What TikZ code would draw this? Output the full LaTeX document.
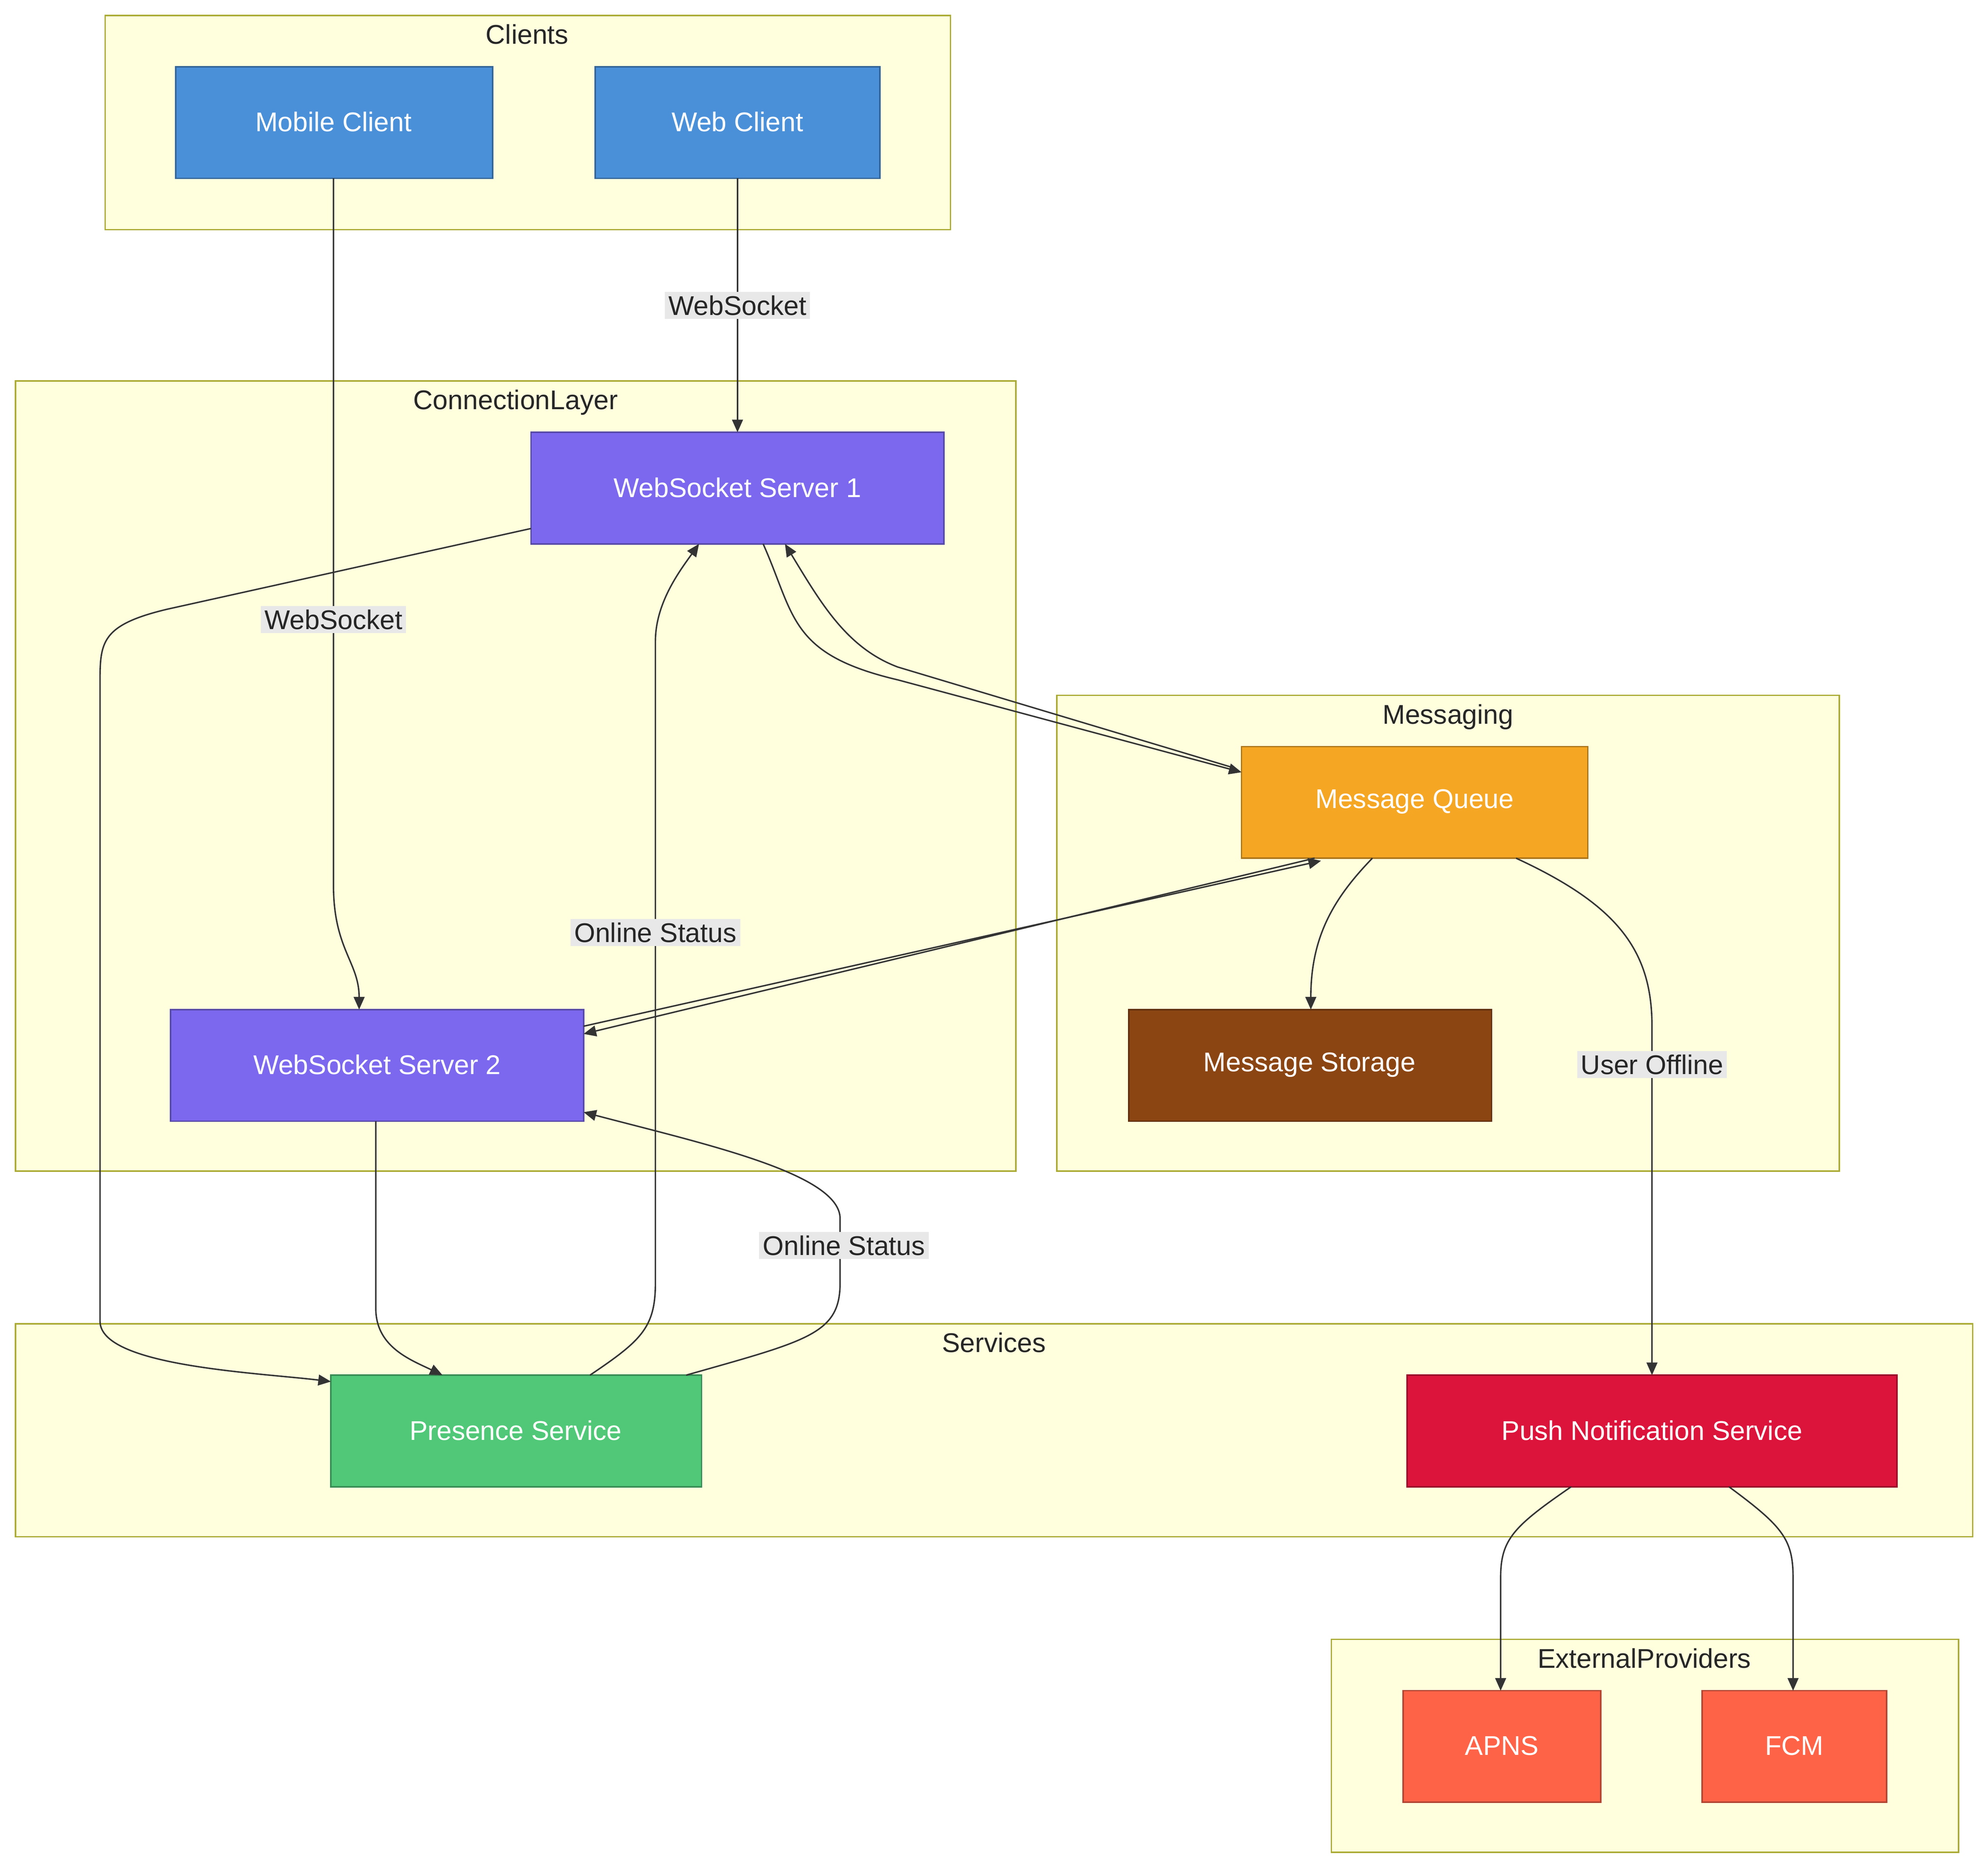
\documentclass[tikz,border=0pt]{standalone}
\usepackage{fontspec}
\setmainfont{Liberation Sans}
\usetikzlibrary{arrows.meta}
\definecolor{clfill}{HTML}{FFFFDE}
\definecolor{clline}{HTML}{AAAA33}
\definecolor{cblue}{HTML}{4A90D9}
\definecolor{cpurp}{HTML}{7B68EE}
\definecolor{corange}{HTML}{F5A623}
\definecolor{cbrown}{HTML}{8B4513}
\definecolor{cgreen}{HTML}{50C878}
\definecolor{cred}{HTML}{DC143C}
\definecolor{ctomato}{HTML}{FF6347}
\definecolor{edgec}{HTML}{333333}
\definecolor{lblbg}{HTML}{E8E8E8}
\begin{document}
\begin{tikzpicture}[x=0.025cm,y=-0.025cm,
 cluster/.style={draw=clline,fill=clfill,line width=0.8pt},
 ctitle/.style={anchor=north,font=\fontsize{15}{18}\selectfont,text=black!85},
 box/.style={draw=#1!70!black,fill=#1,line width=0.8pt},
 btxt/.style={text=white,font=\fontsize{15}{18}\selectfont},
 e/.style={draw=edgec,line width=0.8pt,-{Triangle[length=7pt,width=6pt]}},
 lbl/.style={fill=lblbg,inner sep=2pt,font=\fontsize{15}{18}\selectfont,text=black!85}]
\useasboundingbox (0,0) rectangle (1550,1457);
\fill[white] (0,0) rectangle (1550,1457);
% clusters
\draw[cluster] (82,12) rectangle (741,179); \node[ctitle] (tcl) at (411,14) {Clients};
\draw[cluster] (12,297) rectangle (792,913); \node[ctitle] (tco) at (402,299) {ConnectionLayer};
\draw[cluster] (824,542) rectangle (1434,913); \node[ctitle] (tme) at (1129,544) {Messaging};
\draw[cluster] (12,1032) rectangle (1538,1198); \node[ctitle] (tse) at (775,1034) {Services};
\draw[cluster] (1038,1278) rectangle (1527,1444); \node[ctitle] (tex) at (1282,1280) {ExternalProviders};
% nodes
\draw[box=cblue] (137,52) rectangle (384,139); \node[btxt] (mob) at (260,95) {Mobile Client};
\draw[box=cblue] (464,52) rectangle (686,139); \node[btxt] (web) at (575,95) {Web Client};
\draw[box=cpurp] (414,337) rectangle (736,424); \node[btxt] (ws1) at (575,380) {WebSocket Server 1};
\draw[box=cpurp] (133,787) rectangle (455,874); \node[btxt] (ws2) at (294,830) {WebSocket Server 2};
\draw[box=corange] (968,582) rectangle (1238,669); \node[btxt] (mq) at (1103,625) {Message Queue};
\draw[box=cbrown] (880,787) rectangle (1163,874); \node[btxt] (ms) at (1021,830) {Message Storage};
\draw[box=cgreen] (258,1072) rectangle (547,1159); \node[btxt] (ps) at (402,1115) {Presence Service};
\draw[box=cred] (1097,1072) rectangle (1479,1159); \node[btxt] (pn) at (1288,1115) {Push Notification Service};
\draw[box=ctomato] (1094,1318) rectangle (1248,1405); \node[btxt] (apns) at (1171,1361) {APNS};
\draw[box=ctomato] (1327,1318) rectangle (1471,1405); \node[btxt] (fcm) at (1399,1361) {FCM};
% edges
\draw[e] (260,139) -- (260,690) .. controls (260,740) and (280,750) .. (280,787);
\node[lbl] (l1) at (260,483) {WebSocket};
\draw[e] (575,139) -- (575,337);
\node[lbl] (l2) at (575,238) {WebSocket};
\draw[e] (414,412) -- (130,475) .. controls (80,487) and (78,500) .. (78,530) -- (78,1030) .. controls (78,1065) and (200,1070) .. (258,1077);
\draw[e] (293,874) -- (293,1020) .. controls (293,1050) and (320,1060) .. (345,1072);
\draw[e] (460,1072) .. controls (500,1045) and (511,1035) .. (511,1000) -- (511,500) .. controls (511,470) and (530,445) .. (545,424);
\node[lbl] (l3) at (511,727) {Online Status};
\draw[e] (535,1072) .. controls (630,1045) and (655,1040) .. (655,1000) -- (655,950) .. controls (655,915) and (550,892) .. (455,867);
\node[lbl] (l4) at (658,971) {Online Status};
\draw[e] (595,424) .. controls (620,480) and (615,510) .. (700,530) -- (968,602);
\draw[e] (960,598) -- (700,520) .. controls (660,505) and (640,470) .. (612,424);
\draw[e] (455,800) -- (1030,671);
\draw[e] (1025,669) -- (455,806);
\draw[e] (1070,669) .. controls (1040,700) and (1022,730) .. (1022,787);
\draw[e] (1182,669) .. controls (1260,705) and (1288,740) .. (1288,800) -- (1288,1072);
\node[lbl] (l5) at (1288,830) {User Offline};
\draw[e] (1225,1159) .. controls (1180,1190) and (1170,1200) .. (1170,1230) -- (1170,1318);
\draw[e] (1348,1159) .. controls (1390,1190) and (1398,1200) .. (1398,1230) -- (1398,1318);
\end{tikzpicture}
\end{document}
